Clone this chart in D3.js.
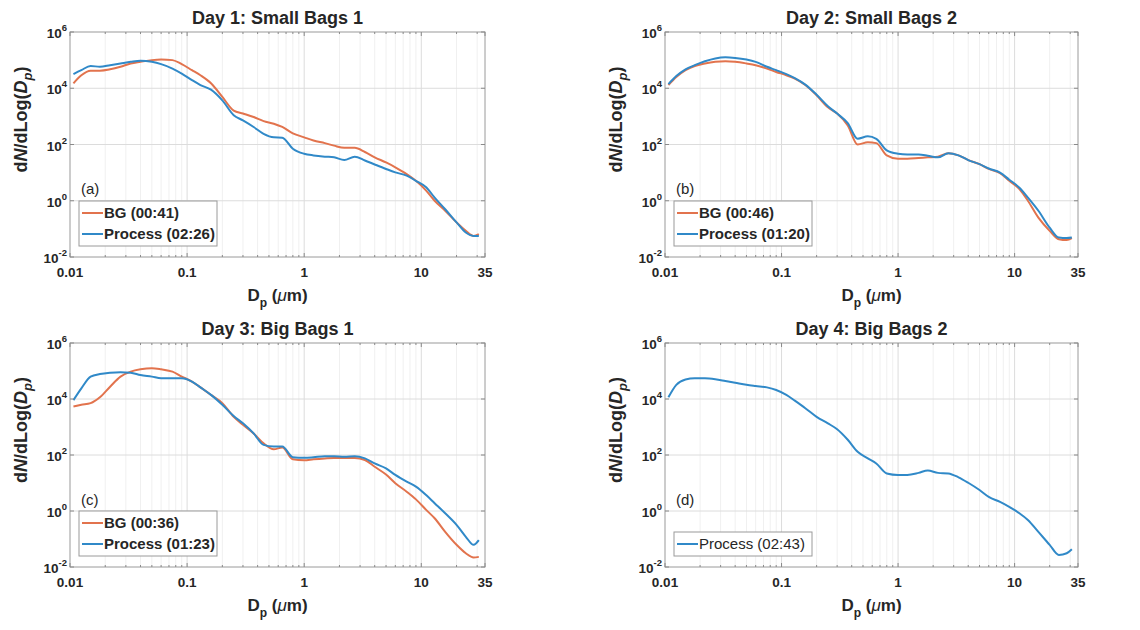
<!DOCTYPE html>
<html lang="en">
<head>
<meta charset="UTF-8">
<title>Particle Size Distributions</title>
<script src="https://d3js.org/d3.v7.min.js"></script>
<style>
    body {
        margin: 0;
        background: #fff;
        font-family: "Liberation Sans", Arial, sans-serif;
    }
    svg text {
        fill: #262626;
    }
</style>
</head>
<body>
<svg id="chart" width="1140" height="630"></svg>
<script>
    // Particle diameter bins (um), shared by every series
    const sizes = [0.0107, 0.0125, 0.015, 0.018, 0.022, 0.027, 0.033, 0.04, 0.05, 0.06,
                   0.075, 0.09, 0.11, 0.13, 0.16, 0.2, 0.25, 0.3, 0.37, 0.45,
                   0.55, 0.65, 0.8, 1.0, 1.2, 1.5, 1.8, 2.2, 2.7, 3.3,
                   4, 5, 6, 7.5, 9, 11, 13, 16, 20, 24, 28, 31];

    // dN/dLog(Dp) per series
    const day1BG = [1.5e4, 2.9e4, 4.2e4, 4.2e4, 4.7e4, 5.8e4, 7.6e4, 8.7e4, 1.0e5, 1.05e5,
                    1.0e5, 7.2e4, 4.4e4, 2.9e4, 1.5e4, 4.9e3, 1.6e3, 1.26e3, 950, 680,
                    550, 420, 250, 180, 138, 112, 91, 76, 76, 54,
                    35, 23, 15.5, 8.9, 5.1, 2.3, 1.0, 0.44, 0.17, 0.085, 0.056, 0.065];
    const day1Process = [3.2e4, 4.4e4, 6.2e4, 5.8e4, 6.6e4, 7.6e4, 8.7e4, 9.5e4, 8.7e4, 7.2e4,
                         5.0e4, 3.3e4, 1.95e4, 1.3e4, 8.9e3, 3.7e3, 1.1e3, 720, 420, 240,
                         180, 175, 71, 47, 41, 37, 35, 28, 37, 27,
                         19.5, 13.5, 10.2, 7.8, 5.1, 3.0, 1.3, 0.5, 0.17, 0.074, 0.056, 0.056];
    const day2BG = [1.3e4, 2.5e4, 4.4e4, 6.2e4, 7.6e4, 8.7e4, 9.1e4, 8.7e4, 7.6e4, 6.6e4,
                    5.0e4, 3.8e4, 2.9e4, 2.2e4, 1.3e4, 5.6e3, 2.1e3, 1.26e3, 480, 100,
                    120, 112, 41, 31, 31, 33, 35, 37, 49, 41,
                    28, 20, 13.5, 9.5, 5.1, 2.6, 1.0, 0.25, 0.085, 0.043, 0.04, 0.047];
    const day2Process = [1.4e4, 2.7e4, 4.7e4, 6.6e4, 9.1e4, 1.15e5, 1.26e5, 1.2e5, 1.05e5, 8.7e4,
                         5.8e4, 4.4e4, 3.2e4, 2.3e4, 1.35e4, 5.9e3, 2.3e3, 1.26e3, 575, 160,
                         195, 160, 62, 47, 44, 44, 40, 35, 49, 41,
                         28, 20, 14, 10, 5.6, 2.9, 1.3, 0.44, 0.11, 0.049, 0.047, 0.049];
    const day3BG = [5.4e3, 6.2e3, 7.1e3, 1.15e4, 2.75e4, 6.3e4, 9.5e4, 1.15e5, 1.26e5, 1.15e5,
                    9.5e4, 6.3e4, 4.2e4, 2.6e4, 1.4e4, 7.1e3, 2.3e3, 1.2e3, 590, 260,
                    160, 185, 70, 65, 70, 75, 78, 78, 78, 66,
                    38, 20, 9.8, 4.9, 2.6, 1.1, 0.55, 0.18, 0.062, 0.031, 0.022, 0.023];
    const day3Process = [9.1e3, 2.4e4, 6.3e4, 7.8e4, 8.7e4, 9.1e4, 8.7e4, 7.2e4, 6.3e4, 5.5e4,
                         5.5e4, 5.5e4, 4.2e4, 2.6e4, 1.4e4, 6.2e3, 2.45e3, 1.35e3, 590, 230,
                         200, 200, 83, 79, 83, 91, 91, 87, 91, 76,
                         50, 33, 19.5, 11.2, 7.4, 3.7, 1.9, 0.83, 0.32, 0.12, 0.062, 0.091];
    const day4Process = [1.15e4, 3.2e4, 5.0e4, 5.5e4, 5.5e4, 5.1e4, 4.4e4, 3.8e4, 3.2e4, 2.9e4,
                         2.6e4, 2.1e4, 1.4e4, 8.7e3, 4.7e3, 2.3e3, 1.35e3, 830, 350, 130,
                         76, 50, 22, 19.5, 19.5, 23, 28, 23, 22, 16,
                         10.2, 5.6, 3.2, 2.1, 1.4, 0.83, 0.48, 0.18, 0.062, 0.027, 0.031, 0.043];

    // axes
    const xTicks = [0.01, 0.1, 1, 10, 35];
    const xTickLabels = ["0.01", "0.1", "1", "10", "35"];
    const yTicks = [1e-2, 1e0, 1e2, 1e4, 1e6];
    const yTickExponents = ["-2", "0", "2", "4", "6"];

    const titles = ["Day 1: Small Bags 1", "Day 2: Small Bags 2", "Day 3: Big Bags 1", "Day 4: Big Bags 2"];
    const tags = ["(a)", "(b)", "(c)", "(d)"];

    const orange = "#e2734d";
    const blue = "#3089c8";

    const panels = [
        { left: 70, top: 32, width: 415, height: 225, bold: true,
          series: [{ name: "BG (00:41)", values: day1BG, color: orange },
                   { name: "Process (02:26)", values: day1Process, color: blue }] },
        { left: 665, top: 32, width: 413, height: 225, bold: true,
          series: [{ name: "BG (00:46)", values: day2BG, color: orange },
                   { name: "Process (01:20)", values: day2Process, color: blue }] },
        { left: 70, top: 343, width: 415, height: 224, bold: true,
          series: [{ name: "BG (00:36)", values: day3BG, color: orange },
                   { name: "Process (01:23)", values: day3Process, color: blue }] },
        { left: 665, top: 343, width: 413, height: 224, bold: false,
          series: [{ name: "Process (02:43)", values: day4Process, color: blue }] }
    ];

    const svg = d3.select("#chart");

    // minor tick positions on the x axis (2..9 of each decade)
    const xMinor = [];
    [0.01, 0.1, 1, 10].forEach(d => {
        for (let k = 2; k <= 9; k++) {
            if (d * k < 35) xMinor.push(d * k);
        }
    });

    panels.forEach((p, i) => {
        const x = d3.scaleLog().domain([0.01, 35]).range([p.left, p.left + p.width]);
        const y = d3.scaleLog().domain([1e-2, 1e6]).range([p.top + p.height, p.top]);
        const g = svg.append("g");
        const bottom = p.top + p.height;

        // grid
        g.selectAll(".gx-minor").data(xMinor).join("line")
            .attr("x1", d => x(d)).attr("x2", d => x(d))
            .attr("y1", p.top).attr("y2", bottom)
            .attr("stroke", "#f0f0f0").attr("stroke-width", 1);
        g.selectAll(".gx").data(xTicks.slice(1, 4)).join("line")
            .attr("x1", d => x(d)).attr("x2", d => x(d))
            .attr("y1", p.top).attr("y2", bottom)
            .attr("stroke", "#dcdcdc").attr("stroke-width", 1);
        g.selectAll(".gy").data(yTicks.slice(1, 4)).join("line")
            .attr("x1", p.left).attr("x2", p.left + p.width)
            .attr("y1", d => y(d)).attr("y2", d => y(d))
            .attr("stroke", "#dcdcdc").attr("stroke-width", 1);

        // series
        const line = d3.line()
            .x((d, j) => x(sizes[j]))
            .y(d => y(d))
            .curve(d3.curveMonotoneX);
        p.series.forEach(s => {
            g.append("path")
                .datum(s.values)
                .attr("fill", "none")
                .attr("stroke", s.color)
                .attr("stroke-width", 2)
                .attr("stroke-linejoin", "round")
                .attr("d", line);
        });

        // box
        g.append("rect")
            .attr("x", p.left).attr("y", p.top)
            .attr("width", p.width).attr("height", p.height)
            .attr("fill", "none").attr("stroke", "#9a9a9a").attr("stroke-width", 1);

        // inward ticks, both sides
        const tickCol = "#8a8a8a";
        xTicks.forEach(t => {
            g.append("line").attr("x1", x(t)).attr("x2", x(t)).attr("y1", bottom).attr("y2", bottom - 4).attr("stroke", tickCol);
            g.append("line").attr("x1", x(t)).attr("x2", x(t)).attr("y1", p.top).attr("y2", p.top + 4).attr("stroke", tickCol);
        });
        xMinor.forEach(t => {
            g.append("line").attr("x1", x(t)).attr("x2", x(t)).attr("y1", bottom).attr("y2", bottom - 2).attr("stroke", tickCol);
            g.append("line").attr("x1", x(t)).attr("x2", x(t)).attr("y1", p.top).attr("y2", p.top + 2).attr("stroke", tickCol);
        });
        yTicks.forEach(t => {
            g.append("line").attr("x1", p.left).attr("x2", p.left + 4).attr("y1", y(t)).attr("y2", y(t)).attr("stroke", tickCol);
            g.append("line").attr("x1", p.left + p.width).attr("x2", p.left + p.width - 4).attr("y1", y(t)).attr("y2", y(t)).attr("stroke", tickCol);
        });

        // x tick labels
        g.selectAll(".xl").data(xTicks).join("text")
            .attr("x", d => x(d))
            .attr("y", bottom + 20)
            .attr("text-anchor", "middle")
            .attr("font-size", 13.5).attr("font-weight", 700)
            .text((d, j) => xTickLabels[j]);

        // y tick labels: 10 with superscript exponent
        yTicks.forEach((t, j) => {
            const txt = g.append("text")
                .attr("x", p.left - 3)
                .attr("y", y(t) + 6)
                .attr("text-anchor", "end")
                .attr("font-size", 13.5).attr("font-weight", 700);
            txt.append("tspan").text("10");
            txt.append("tspan").attr("dy", -7).attr("font-size", 9.5).text(yTickExponents[j]);
        });

        // title
        g.append("text")
            .attr("x", p.left + p.width / 2)
            .attr("y", p.top - 8)
            .attr("text-anchor", "middle")
            .attr("font-size", 18).attr("font-weight", 700)
            .text(titles[i]);

        // x label: Dp (um)
        const xl = g.append("text")
            .attr("x", p.left + p.width / 2)
            .attr("y", bottom + 44)
            .attr("text-anchor", "middle")
            .attr("font-size", 17).attr("font-weight", 700);
        xl.append("tspan").text("D");
        xl.append("tspan").attr("dy", 6).attr("font-size", 12).text("p");
        xl.append("tspan").attr("dy", -6).text(" (");
        xl.append("tspan").attr("font-style", "italic").attr("font-weight", 400).text("\u03bc");
        xl.append("tspan").text("m)");

        // y label: dN/dLog(Dp)
        const ylx = p.left - 43;
        const yly = p.top + p.height / 2 - 25;
        const yl = g.append("text")
            .attr("transform", `translate(${ylx},${yly}) rotate(-90)`)
            .attr("text-anchor", "middle")
            .attr("font-size", 18).attr("font-weight", 700);
        yl.append("tspan").text("d");
        yl.append("tspan").attr("font-style", "italic").text("N");
        yl.append("tspan").text("/dLog(");
        yl.append("tspan").attr("font-style", "italic").text("D");
        yl.append("tspan").attr("dy", 5).attr("font-size", 13).attr("font-style", "italic").text("p");
        yl.append("tspan").attr("dy", -5).text(")");

        // panel tag
        g.append("text")
            .attr("x", p.left + 11)
            .attr("y", p.top + 162)
            .attr("font-size", 15)
            .attr("fill", "#333")
            .text(tags[i]);

        // legend
        const n = p.series.length;
        const lgH = 3 + 21 * n;
        const lgX = p.left + 9;
        const lgY = bottom - 11 - lgH;
        const lg = g.append("g");
        lg.append("rect")
            .attr("x", lgX).attr("y", lgY)
            .attr("width", 138).attr("height", lgH)
            .attr("fill", "#fff").attr("stroke", "#9a9a9a").attr("stroke-width", 1);
        p.series.forEach((s, j) => {
            const cy = lgY + 12 + 21 * j;
            lg.append("line")
                .attr("x1", lgX + 3).attr("x2", lgX + 24)
                .attr("y1", cy).attr("y2", cy)
                .attr("stroke", s.color).attr("stroke-width", 2);
            lg.append("text")
                .attr("x", lgX + 25).attr("y", cy + 5)
                .attr("font-size", 15)
                .attr("font-weight", p.bold ? 700 : 400)
                .text(s.name);
        });
    });
</script>
</body>
</html>
